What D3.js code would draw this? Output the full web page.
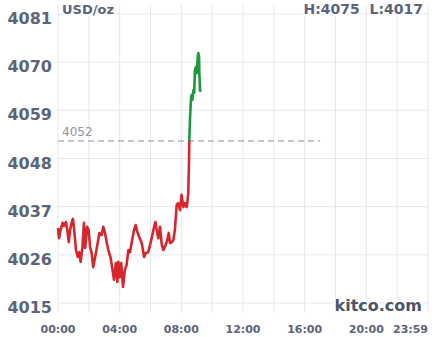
<!DOCTYPE html>
<html>
<head>
<meta charset="utf-8">
<script src="https://cdn.jsdelivr.net/npm/d3@7"></script>
<style>
  body { margin: 0; background: #fff; }
  svg { display: block; font-family: "DejaVu Sans", sans-serif; }
</style>
</head>
<body>
<div id="chart"></div>
<script>
// price readings, times in HH:MM
const redTimes = ["00:00","00:04","00:10","00:18","00:23","00:31","00:36","00:42","00:47","00:53","00:58",
  "01:03","01:10","01:17","01:23","01:28","01:35","01:41","01:46","01:53","01:59","02:05","02:11","02:17",
  "02:24","02:33","02:41","02:50","02:56","03:03","03:10","03:16","03:25","03:31","03:38","03:45","03:51",
  "03:55","04:01","04:06","04:13","04:20","04:27","04:34","04:40","04:47","04:56","05:02","05:09","05:16",
  "05:26","05:35","05:42","05:51","06:01","06:07","06:14","06:19","06:24","06:30","06:37","06:44","06:50",
  "06:56","07:03","07:11","07:16","07:23","07:29","07:35","07:42","07:48","07:55","08:01","08:08","08:14",
  "08:21","08:27","08:30","08:31"];
const redPrices = [4032.1,4029.8,4031.7,4033.3,4032.6,4033.5,4031.7,4028.9,4031.7,4033.3,4034.2,
  4031.7,4027.1,4025.5,4026.6,4024.4,4027.6,4033.3,4027.6,4032.4,4031.7,4027.8,4026.4,4023.2,
  4025.3,4028.2,4031.0,4030.5,4032.4,4031.0,4028.7,4027.1,4025.3,4023.0,4020.3,4024.1,4019.8,
  4024.4,4020.9,4024.1,4018.7,4022.5,4023.7,4027.1,4026.6,4028.9,4031.7,4032.8,4031.2,4030.1,
  4028.7,4025.5,4026.4,4026.6,4028.9,4030.5,4032.4,4033.5,4031.7,4029.8,4032.4,4028.2,4027.1,
  4027.8,4028.9,4031.0,4028.7,4028.9,4029.4,4031.7,4037.4,4037.8,4036.2,4039.7,4036.9,4037.8,
  4036.9,4040.1,4047.7,4052.0];
const greenTimes = ["08:31","08:34","08:38","08:40","08:43","08:47","08:50","08:53","08:57","09:00",
  "09:04","09:06","09:09","09:10","09:13","09:15"];
const greenPrices = [4052.0,4057.5,4062.0,4062.5,4061.4,4063.6,4063.0,4068.2,4068.9,4067.5,
  4071.2,4072.1,4071.2,4067.5,4063.6,4063.2];

const yTicks = [4015, 4026, 4037, 4048, 4059, 4070, 4081];
const xTickHours = [0, 2, 4, 6, 8, 10, 12, 14, 16, 18, 20, 22, 24];
const xLabels = ["00:00", "04:00", "08:00", "12:00", "16:00", "20:00", "23:59"];
const prevClose = 4052;
const highLow = "H:4075  L:4017";

const W = 438, H = 337;
const toMin = s => { const p = s.split(":"); return +p[0] * 60 + +p[1]; };

const svg = d3.select("#chart").append("svg").attr("width", W).attr("height", H);

const x = d3.scaleLinear().domain([0, 1440]).range([58, 428]);
const y = d3.scaleLinear().domain([4015, 4081]).range([303, 14]);

const grid = "#e4e7ee", ink = "#5b6478";

// grid
svg.append("g").selectAll("line").data(xTickHours).join("line")
  .attr("x1", d => x(d * 60)).attr("x2", d => x(d * 60))
  .attr("y1", 5).attr("y2", 313)
  .attr("stroke", grid).attr("stroke-width", 1);
svg.append("g").selectAll("line").data(yTicks).join("line")
  .attr("x1", x(0)).attr("x2", x(1440))
  .attr("y1", d => y(d)).attr("y2", d => y(d))
  .attr("stroke", grid).attr("stroke-width", 1);

// y labels
svg.append("g").selectAll("text").data(yTicks).join("text")
  .attr("x", 52).attr("y", d => y(d) + 10)
  .attr("text-anchor", "end")
  .style("font-size", "16px").style("font-weight", "bold").style("fill", ink)
  .text(d => d);

// x labels
svg.append("g").selectAll("text").data(xLabels).join("text")
  .attr("x", (d, i) => i === xLabels.length - 1 ? x(1440) : x(toMin(d)))
  .attr("y", 333)
  .attr("text-anchor", (d, i) => i === xLabels.length - 1 ? "end" : "middle")
  .style("font-size", "11px").style("font-weight", "bold").style("fill", ink)
  .text(d => d);

// previous close
svg.append("line")
  .attr("x1", x(0)).attr("x2", x(17 * 60))
  .attr("y1", y(prevClose)).attr("y2", y(prevClose))
  .attr("stroke", "#8790a6").attr("stroke-width", 1).attr("stroke-dasharray", "6,4");
svg.append("text")
  .attr("x", 62).attr("y", y(prevClose) - 5)
  .style("font-size", "12px").style("fill", "#8c95aa")
  .text(prevClose);

// price lines
const line = d3.line().x(d => x(d[0])).y(d => y(d[1]));
const redData = redTimes.map((t, i) => [toMin(t), redPrices[i]]);
const greenData = greenTimes.map((t, i) => [toMin(t), greenPrices[i]]);
svg.append("path").datum(redData).attr("d", line)
  .attr("fill", "none").attr("stroke", "#d7262b").attr("stroke-width", 2.6)
  .attr("stroke-linejoin", "round");
svg.append("path").datum(greenData).attr("d", line)
  .attr("fill", "none").attr("stroke", "#1a9a3a").attr("stroke-width", 2.6)
  .attr("stroke-linejoin", "round");

// header texts
const halo = sel => sel.style("stroke", "#fff").style("stroke-width", 3)
  .style("paint-order", "stroke");
svg.append("text").attr("x", 62).attr("y", 13.5)
  .style("font-size", "13px").style("font-weight", "bold").style("fill", ink)
  .call(halo).text("USD/oz");
svg.append("text").attr("x", 423).attr("y", 13.5).attr("text-anchor", "end")
  .attr("xml:space", "preserve")
  .style("font-size", "14px").style("font-weight", "bold").style("fill", ink)
  .style("white-space", "pre")
  .call(halo).text(highLow);
svg.append("text").attr("x", 422).attr("y", 311).attr("text-anchor", "end")
  .style("font-size", "16px").style("font-weight", "bold").style("fill", "#4d5568")
  .call(halo).text("kitco.com");
</script>
</body>
</html>
